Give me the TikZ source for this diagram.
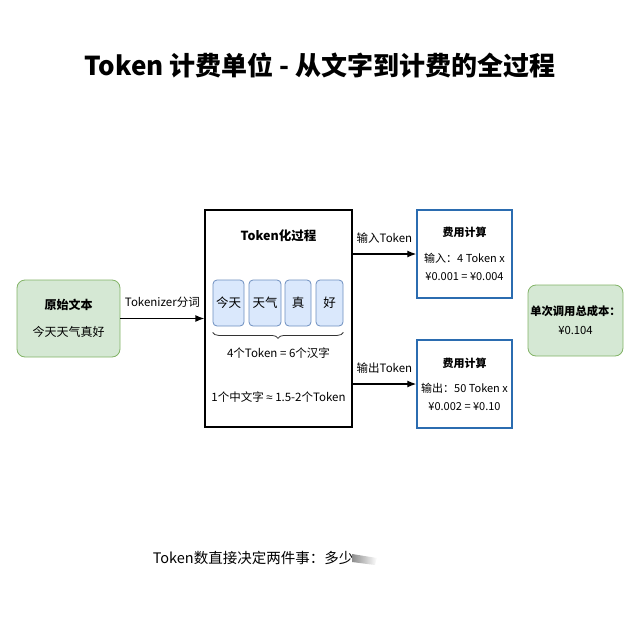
\documentclass[tikz,border=0pt]{standalone}
\usepackage{fontspec}
\setmainfont{Noto Sans CJK SC}
\newfontfamily\latinfont{Liberation Sans}
\usetikzlibrary{arrows.meta,positioning,decorations.pathreplacing}
\definecolor{SoftGreen}{HTML}{D5E8D4}
\definecolor{LeafGreen}{HTML}{82B366}
\definecolor{SoftBlue}{HTML}{DAE8FC}
\definecolor{SteelBlue}{HTML}{6C8EBF}
\definecolor{CostBlue}{HTML}{2B6CB0}
\tikzset{
  srcbox/.style={draw=LeafGreen,rounded corners=8pt,fill=SoftGreen,
    thick,minimum width=103pt,minimum height=77pt,align=center,
    font=\fontsize{12}{27}\selectfont},
  procbox/.style={draw=black,line width=1.3pt,minimum width=147pt,
    minimum height=217pt},
  tokbox/.style={draw=SteelBlue,rounded corners=4pt,fill=SoftBlue,
    thick,minimum height=46pt,inner sep=0pt,font=\fontsize{12.5}{14}\selectfont},
  costbox/.style={draw=CostBlue,line width=1.4pt,fill=white,
    minimum width=95pt,minimum height=88pt,inner sep=1pt,
    align=center,font=\fontsize{11}{18}\selectfont},
  totalbox/.style={draw=LeafGreen,rounded corners=8pt,fill=SoftGreen,
    thick,minimum width=95pt,minimum height=71pt,inner sep=1pt,align=center,
    font=\fontsize{11.3}{19}\selectfont},
  lbl/.style={font=\fontsize{11.5}{13}\selectfont},
  brace/.style={decorate,decoration={brace,mirror,amplitude=6pt},thick,black!80},
  arrow/.style={-{Latex[length=9pt,width=7pt]},line width=1.3pt,black}
}
\begin{document}
\begin{tikzpicture}[x=1pt,y=-1pt]
  \useasboundingbox (0,0) rectangle (640,640);
  \node[font=\fontsize{26}{30}\bfseries\selectfont] (title) at (320,65)
    {Token 计费单位 - 从文字到计费的全过程};
  % source text
  \node[srcbox] (src) at (68.5,318.5) {\textbf{原始文本}\\今天天气真好};
  % tokenization
  \node[procbox] (proc) at (278.5,318.5) {};
  \node[font=\fontsize{12.5}{14}\bfseries\selectfont] (ptitle) at (278.5,236) {Token化过程};
  \node[tokbox,minimum width=31pt] (t1) at (228.5,303) {今天};
  \node[tokbox,minimum width=32pt] (t2) at (265,303) {天气};
  \node[tokbox,minimum width=26pt] (t3) at (298,303) {真};
  \node[tokbox,minimum width=27pt] (t4) at (329.5,303) {好};
  \draw[brace] ([yshift=-6pt]t1.south west) -- ([yshift=-6pt]t4.south east);
  \node[font=\fontsize{11.5}{14}\selectfont] (count) at (278.5,353) {4个Token = 6个汉字};
  \node[font=\fontsize{11.5}{14}\selectfont] (ratio) at (278.5,397) {1个中文字 {\latinfont ≈} 1.5-2个Token};
  % cost
  \node[costbox] (cin) at (464.5,254) {\textbf{费用计算}\\[8pt]输入：4 Token x\\¥0.001 = ¥0.004};
  \node[costbox] (cout) at (464.5,384) {\textbf{费用计算}\\[7pt]输出：50 Token x\\¥0.002 = ¥0.10};
  \node[totalbox] (total) at (575.5,320.5) {\textbf{单次调用总成本：}\\¥0.104};
  \draw[arrow] (src) -- (src -| proc.west) node[midway,above=7pt,lbl] {Tokenizer分词};
  \draw[arrow] (proc.east |- cin.west) -- (cin.west) node[midway,above=7pt,lbl] {输入Token};
  \draw[arrow] (proc.east |- cout.west) -- (cout.west) node[midway,above=7pt,lbl] {输出Token};
  % footer
  \node[font=\fontsize{14.5}{16}\selectfont] (note) at (253,558) {Token数直接决定两件事：多少};
  \shade[left color=black!45,right color=white] (352,554) -- (377,558) -- (375,565) -- (352,562) -- cycle;
\end{tikzpicture}
\end{document}
